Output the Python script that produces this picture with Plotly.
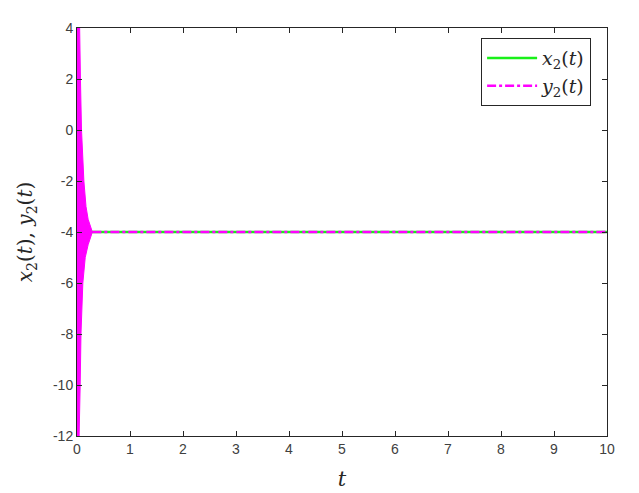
import plotly.graph_objects as go

# ── Data ────────────────────────────────────────────────────────────────────
# steady-state level of x2(t)
t_span = [0, 10]
x2_level = [-4, -4]

# y2(t): envelope of the dense oscillation during the transient
t_upper = [0, 0.05, 0.065, 0.085, 0.13, 0.17, 0.21, 0.29]
y_upper = [4, 4, 2, 0, -2, -3, -3.5, -4]
t_lower = [0, 0.04, 0.06, 0.075, 0.11, 0.155, 0.21, 0.29]
y_lower = [-12, -12, -10, -8, -6, -5, -4.5, -4]

# y2(t) after the transient has died out
t_steady = [0.29, 10]
y2_steady = [-4, -4]

x_ticks = [0, 1, 2, 3, 4, 5, 6, 7, 8, 9, 10]
y_ticks = [-12, -10, -8, -6, -4, -2, 0, 2, 4]

# ── Colours ─────────────────────────────────────────────────────────────────
GREEN = "#19f019"
MAGENTA = "#ff00ff"
AXIS = "#262626"
LABEL = "#404040"

SERIF = "DejaVu Serif, Liberation Serif, serif"
SANS = "Liberation Sans, Arial, sans-serif"

fig = go.Figure()

# x2(t)
fig.add_trace(
    go.Scatter(
        x=t_span, y=x2_level,
        mode="lines",
        name="<i>x</i><sub>2</sub>(<i>t</i>)",
        line=dict(color=GREEN, width=2.5),
    )
)

# y2(t) transient – the oscillation is so dense it reads as a filled band
fig.add_trace(
    go.Scatter(
        x=t_upper + t_lower[::-1],
        y=y_upper + y_lower[::-1],
        mode="lines",
        fill="toself",
        fillcolor=MAGENTA,
        line=dict(color=MAGENTA, width=1),
        showlegend=False,
        hoverinfo="skip",
    )
)

# y2(t) steady part, dash-dot on top of x2
fig.add_trace(
    go.Scatter(
        x=t_steady, y=y2_steady,
        mode="lines",
        name="<i>y</i><sub>2</sub>(<i>t</i>)",
        line=dict(color=MAGENTA, width=2.5, dash="dashdot"),
    )
)

axis_common = dict(
    showline=True,
    linecolor=AXIS,
    linewidth=1,
    mirror="ticks",
    ticks="inside",
    ticklen=5,
    tickwidth=1,
    tickcolor=AXIS,
    showgrid=False,
    zeroline=False,
    tickfont=dict(family=SANS, size=14, color=LABEL),
)

# page body adds an 8px offset, margins compensate for it
fig.update_layout(
    width=639,
    height=493,
    paper_bgcolor="#ffffff",
    plot_bgcolor="#ffffff",
    margin=dict(l=69, r=40, t=13, b=65),
    xaxis=dict(
        **axis_common,
        range=[0, 10],
        tickvals=x_ticks,
        ticktext=[str(v) for v in x_ticks],
        title=dict(text="<i>t</i>", font=dict(family=SERIF, size=21, color=AXIS), standoff=15),
    ),
    yaxis=dict(
        **axis_common,
        range=[-12, 4],
        tickvals=y_ticks,
        ticktext=[str(v) for v in y_ticks],
        title=dict(
            text="<i>x</i><sub>2</sub>(<i>t</i>), <i>y</i><sub>2</sub>(<i>t</i>)",
            font=dict(family=SERIF, size=20, color=AXIS),
            standoff=14,
        ),
    ),
    legend=dict(
        x=0.970, y=0.975,
        xanchor="right", yanchor="top",
        bgcolor="#ffffff",
        bordercolor=AXIS,
        borderwidth=1,
        itemwidth=50,
        font=dict(family=SERIF, size=19, color=AXIS),
        tracegroupgap=0,
    ),
)

fig.write_html("out.html")
